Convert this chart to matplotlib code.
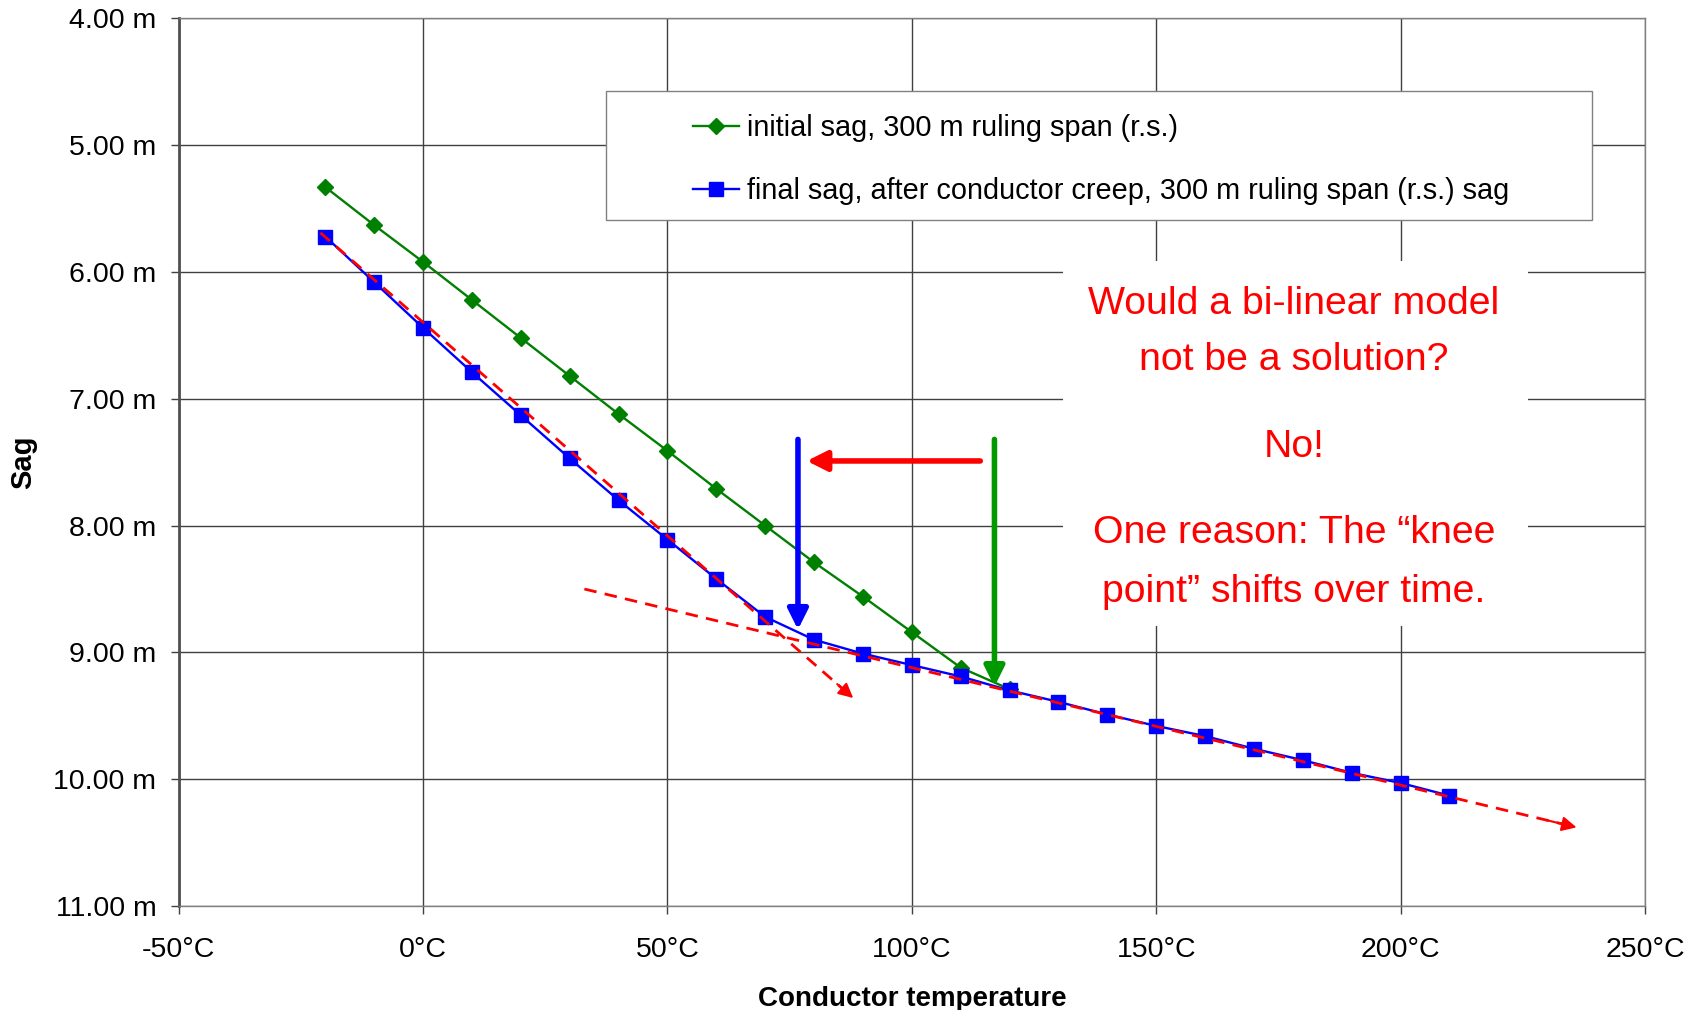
import matplotlib
matplotlib.use("Agg")
import matplotlib.pyplot as plt
from matplotlib.patches import Rectangle
from matplotlib.ticker import FuncFormatter

# Data
temp_initial = [-20, -10, 0, 10, 20, 30, 40, 50, 60, 70, 80, 90, 100, 110, 120]
sag_initial = [5.33, 5.63, 5.92, 6.22, 6.52, 6.82, 7.12, 7.41, 7.71, 8.00, 8.29, 8.56, 8.84, 9.12, 9.29]

temp_final = [-20, -10, 0, 10, 20, 30, 40, 50, 60, 70, 80, 90, 100, 110, 120,
              130, 140, 150, 160, 170, 180, 190, 200, 210]
sag_final = [5.72, 6.08, 6.44, 6.79, 7.13, 7.47, 7.80, 8.11, 8.42, 8.72, 8.90, 9.01,
             9.10, 9.19, 9.30, 9.39, 9.49, 9.58, 9.66, 9.76, 9.85, 9.95, 10.03, 10.13]

# bi-linear fit lines (start, end)
fit1_x = [-21, 88]
fit1_y = [5.69, 9.36]
fit2_x = [33, 236]
fit2_y = [8.50, 10.38]

labels = ["initial sag, 300 m ruling span (r.s.)",
          "final sag, after conductor creep, 300 m ruling span (r.s.) sag"]
note_lines = ["Would a bi-linear model", "not be a solution?", "No!",
              "One reason: The \u201cknee", "point\u201d shifts over time."]

plt.rcParams["font.family"] = ["Liberation Sans", "DejaVu Sans"]

fig = plt.figure(figsize=(17.02, 10.10), dpi=100)
ax = fig.add_axes([0.105, 0.103, 0.8615, 0.8787])

ax.set_xlim(-50, 250)
ax.set_ylim(11, 4)
ax.set_xticks(range(-50, 251, 50))
ax.set_yticks(range(4, 12))
ax.xaxis.set_major_formatter(FuncFormatter(lambda v, p: f"{v:.0f}\u00b0C"))
ax.yaxis.set_major_formatter(FuncFormatter(lambda v, p: f"{v:.2f} m"))
ax.tick_params(axis="both", direction="out", length=6, width=1, color="#404040",
               labelsize=20.5)
ax.tick_params(axis="x", pad=16)
ax.tick_params(axis="y", pad=10)
ax.grid(True, color="#404040", lw=1)
ax.set_axisbelow(True)
for s in ax.spines.values():
    s.set_color("#808080")
    s.set_linewidth(1)
ax.spines["left"].set_color("#505050")
ax.spines["left"].set_linewidth(2)

ax.plot(temp_initial, sag_initial, color="#008000", lw=1.7, marker="D",
        markersize=8, label=labels[0], zorder=4)
ax.plot(temp_final, sag_final, color="#0000FF", lw=1.7, marker="s",
        markersize=10, label=labels[1], zorder=4)

# red dashed fit lines with arrow heads
for fx, fy in [(fit1_x, fit1_y), (fit2_x, fit2_y)]:
    ax.plot(fx, fy, color="#FF0000", lw=2, ls=(0, (4.5, 3)), zorder=5)
    dx = (fx[1] - fx[0]) * 0.03
    dy = (fy[1] - fy[0]) * 0.03
    ax.annotate("", xy=(fx[1], fy[1]), xytext=(fx[1] - dx, fy[1] - dy),
                arrowprops=dict(arrowstyle="-|>", color="#FF0000", lw=1.5,
                                mutation_scale=22, shrinkA=0, shrinkB=0), zorder=5)

# shift arrows
arrow_kw = dict(arrowstyle="-|>", lw=4, mutation_scale=30, shrinkA=0, shrinkB=0)
ax.annotate("", xy=(76.7, 8.82), xytext=(76.7, 7.32),
            arrowprops=dict(color="#0000FF", **arrow_kw), zorder=6)
ax.annotate("", xy=(116.9, 9.27), xytext=(116.9, 7.32),
            arrowprops=dict(color="#009900", **arrow_kw), zorder=6)
ax.annotate("", xy=(78.5, 7.49), xytext=(114, 7.49),
            arrowprops=dict(color="#FF0000", **arrow_kw), zorder=6)

# legend box
ax.add_patch(Rectangle((0.2913, 0.773), 0.6725, 0.1453, transform=ax.transAxes,
                       facecolor="white", edgecolor="#808080", lw=1, zorder=3))
leg = ax.legend(loc="center", bbox_to_anchor=(0.629, 0.841), frameon=False,
                prop={"size": 20.8}, handlelength=1.6,
                handletextpad=0.25, labelspacing=1.22)
leg.set_zorder(7)

# note with white background
ax.add_patch(Rectangle((131, 5.91), 95, 2.88, facecolor="white", edgecolor="none",
                       zorder=3))
note_y = [6.25, 6.69, 7.38, 8.06, 8.52]
for txt, yy in zip(note_lines, note_y):
    ax.text(178.2, yy, txt, color="#FF0000", fontsize=28.3,
            ha="center", va="center", zorder=7)

ax.set_xlabel("Conductor temperature", fontsize=20, fontweight="bold")
ax.xaxis.set_label_coords(0.5, -0.105)
ax.xaxis.label.set_va("center")
ax.set_ylabel("Sag", fontsize=21, fontweight="bold")
ax.yaxis.set_label_coords(-0.106, 0.5)
ax.yaxis.label.set_va("center")

fig.savefig("out.png", dpi=100)
